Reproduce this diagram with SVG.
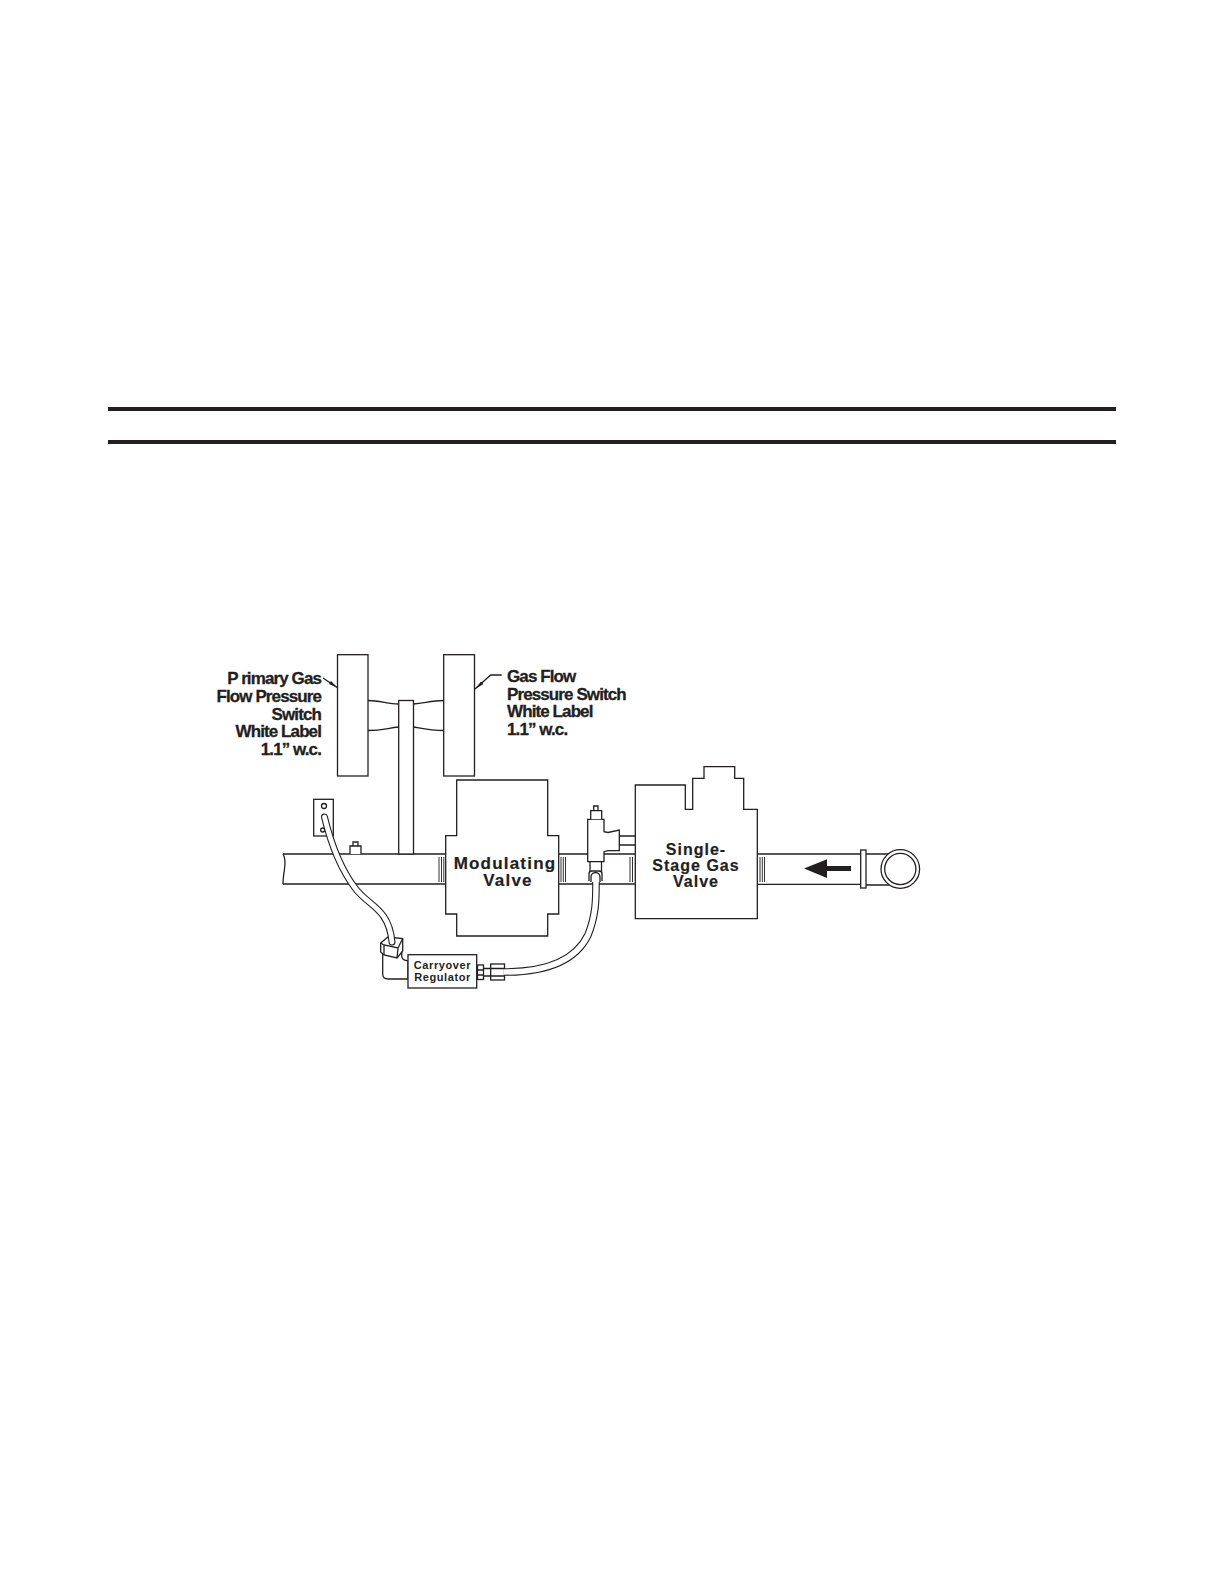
<svg xmlns="http://www.w3.org/2000/svg" width="1224" height="1584" viewBox="0 0 1224 1584">
<style>
.l{fill:none;stroke:#231f20;stroke-width:1.3}
.w{fill:#fff;stroke:#231f20;stroke-width:1.3}
.g{fill:none;stroke:#333;stroke-width:1}
text{font-family:"Liberation Sans",Arial,sans-serif;font-weight:700;fill:#231f20}
.lb{font-size:17px;letter-spacing:-0.9px;stroke:#231f20;stroke-width:.3}
.vl{font-size:17px;letter-spacing:1.200px;text-anchor:middle;stroke:#231f20;stroke-width:.2}
.vs{font-size:16px;letter-spacing:1px;text-anchor:middle;stroke:#231f20;stroke-width:.2}
.sm{font-size:11px;letter-spacing:.6px;text-anchor:middle}
</style>
<rect width="1224" height="1584" fill="#fff"/>
<g id="rules"><rect x="108" y="407" width="1008" height="4" fill="#231f20"/><rect x="108" y="440" width="1008" height="4" fill="#231f20"/></g>
<g id="pipe">
<path class="l" d="M283 854H445.700M558.700 854H588M604 854H635.300M757.300 854H860.700M757.300 884.300H860.700M283 884H445.700M558.700 884H635.300"/>
<path class="l" d="M283 854q3 5 1.500 15t-1.500 15"/>
<path class="g" d="M439 857V882M441.500 857V882M443.800 857V882M561 857V882M563.300 857V882M565.500 857V882M630 857V882M632.500 857V882M760 857V882M762.300 857V882M764.500 857V882"/>
</g>
<g id="plug"><path class="w" d="M350 854V846H361V854M353 846V842H358V846"/></g>
<g id="primary-switch"><rect class="w" x="337.500" y="654.700" width="30.500" height="121.300"/></g>
<g id="gas-switch"><rect class="w" x="443.700" y="654.700" width="30.800" height="121.300"/></g>
<g id="stem">
<rect class="w" x="398.700" y="700.500" width="14.800" height="153.500"/>
<path class="l" d="M368 700.500C380 700.500 388 704 398.700 704M368 730.500C382 730.500 388 728 398.700 727M413.500 704C425 703 432 700.500 443.700 700.500M413.500 727C425 729 432 730.500 443.700 730.500"/>
</g>
<g id="modulating-valve">
<path class="w" d="M456.700 780H547.700V835.700H558.700V914H547.700V936H456.700V914H445.700V835.700H456.700Z"/>
<text class="vl" x="505" y="869">Modulating</text><text class="vl" x="508" y="886">Valve</text>
</g>
<g id="single-stage-valve">
<path class="w" d="M635.300 785H685.300V809.300H692.700V778.300H704V766.700H734.700V778.300H743.700V809.300H757.300V918.700H635.300Z"/>
<text class="vs" x="696" y="855">Single-</text><text class="vs" x="696" y="870.700">Stage Gas</text><text class="vs" x="696" y="886.700">Valve</text>
</g>
<g id="inlet">
<path class="l" d="M866 854H890M866 885H890"/>
<rect class="w" x="860.700" y="850" width="5.300" height="38"/>
<circle class="w" cx="900.300" cy="869" r="19.300"/><circle class="l" cx="900.300" cy="869" r="15.600"/>
<path fill="#231f20" d="M804 868.500L827 859.300V866H851V871H827V878Z"/>
</g>
<g id="tee">
<path class="l" d="M619.300 836H635.300M619.300 845H635.300"/>
<path class="w" d="M587.700 819.300H604V831.700L608 832.500L619.300 830V850.700H608L604 851.700V861.700H587.700Z"/>
<path class="w" d="M590.700 819.300V810.700H601.700V819.300M593.700 810.700V806H598V810.700"/>
<path class="w" d="M590 861.700H601.500V872H590Z"/>
<path class="w" d="M589 881V874Q589 871 592 871H599Q602 871 602 874V881"/>
<path class="l" d="M591 882V877a4.500 4.500 0 0 1 9 0V882"/>
</g>
<g id="regulator">
<path class="w" d="M382.700 950V974Q382.700 979 388 979H408V960.700Q402 960.700 401.700 956V945Z"/>
<path class="w" d="M380.700 943L388 937L402.700 938.500V951L397 958L384 955L380.700 952Z"/>
<path class="l" d="M380.700 943L384 945L398 948L402.700 938.500M384 945V955M398 948L397 958"/>
<rect class="w" x="408" y="954.700" width="68.700" height="33.300"/>
<text class="sm" x="442.500" y="969">Carryover</text><text class="sm" x="442.500" y="981">Regulator</text>
<rect class="w" x="477.500" y="965" width="6" height="14.500"/>
<path class="l" d="M477.500 970H483.500M477.500 975H483.500M483.500 968.500H491M483.500 976H491"/>
<rect class="w" x="490.700" y="964" width="13.800" height="16"/>
<path class="l" d="M490.700 968.500H504.500M490.700 976H504.500"/>
</g>
<g id="gauge-port">
<rect class="w" x="313.700" y="799.300" width="19.600" height="36.700"/>
<circle class="l" cx="324" cy="806" r="2.500"/>
<circle class="l" cx="322.700" cy="830" r="2"/>
</g>
<g id="connectors">
<path fill="none" stroke="#231f20" stroke-width="7" stroke-linecap="round" d="M324.500 817C330 840 340 868 355 888C368 906 389 908 392 942"/>
<path fill="none" stroke="#fff" stroke-width="4.800" stroke-linecap="round" d="M324.500 817C330 840 340 868 355 888C368 906 389 908 392 942"/>
<path fill="none" stroke="#231f20" stroke-width="7.600" d="M505 972C545 972 575 962 588 935C596 915 596 900 596 882"/>
<path fill="none" stroke="#fff" stroke-width="5.400" d="M504 972C545 972 575 962 588 935C596 915 596 900 596 881"/>
<path class="l" d="M323 678L337.500 687.700M475 689L490.700 675H501.700"/>
<path fill="#231f20" d="M337.500 687.700L329 684L331 681ZM475 689L481 681.500L483.500 684Z"/>
</g>
<g id="labels">
<text class="lb" text-anchor="end" x="321" y="684">P rimary Gas</text>
<text class="lb" text-anchor="end" x="321" y="702">Flow Pressure</text>
<text class="lb" text-anchor="end" x="321" y="719.500">Switch</text>
<text class="lb" text-anchor="end" x="321" y="737">White Label</text>
<text class="lb" text-anchor="end" x="321" y="754.500">1.1” w.c.</text>
<text class="lb" x="507" y="682">Gas Flow</text>
<text class="lb" x="507" y="699.500">Pressure Switch</text>
<text class="lb" x="507" y="717">White Label</text>
<text class="lb" x="507" y="735">1.1” w.c.</text>
</g>
</svg>
